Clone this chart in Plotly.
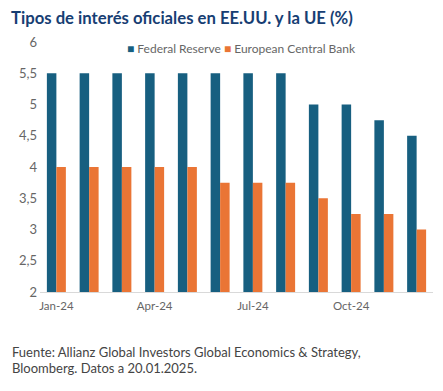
import plotly.graph_objects as go

months = ["Jan-24", "Feb-24", "Mar-24", "Apr-24", "May-24", "Jun-24",
          "Jul-24", "Aug-24", "Sep-24", "Oct-24", "Nov-24", "Dec-24"]
fed = [5.5, 5.5, 5.5, 5.5, 5.5, 5.5, 5.5, 5.5, 5.0, 5.0, 4.75, 4.5]
ecb = [4.0, 4.0, 4.0, 4.0, 4.0, 3.75, 3.75, 3.75, 3.5, 3.25, 3.25, 3.0]
tick_months = ["Jan-24", "Apr-24", "Jul-24", "Oct-24"]
y_ticks = [2, 2.5, 3, 3.5, 4, 4.5, 5, 5.5, 6]
FED_COLOR = "#175f80"
ECB_COLOR = "#ea7535"

# The page body has an 8px default margin, so layout coordinates are offset.
OFF = 8
W, H = 443 - OFF, 391 - OFF
L, T, R, B = 40 - OFF, 42 - OFF, 10, 391 - 292
PW, PH = W - L - R, H - T - B

def px_x(x):
    return (x - OFF - L) / PW

def px_y(y):
    return 1 - (y - OFF - T) / PH

FONT = "Lato"
fig = go.Figure()
fig.add_bar(x=months, y=fed, name="Federal Reserve", marker_color=FED_COLOR,
            marker_line_width=0, showlegend=False)
fig.add_bar(x=months, y=ecb, name="European Central Bank", marker_color=ECB_COLOR,
            marker_line_width=0, showlegend=False)

fig.update_layout(
    width=W, height=H,
    margin=dict(l=L, r=R, t=T, b=B),
    paper_bgcolor="white", plot_bgcolor="white",
    separators=",.",
    barmode="group", bargap=0.42, bargroupgap=0,
    font=dict(family=FONT, color="#555555", size=12),
)
fig.update_xaxes(type="category", tickvals=tick_months, ticktext=tick_months,
                 showgrid=False, showline=True, linecolor="#d9d9d9", linewidth=1,
                 ticks="", tickfont=dict(size=11.5, color="#666666"), ticklabelstandoff=3)
fig.update_yaxes(range=[2, 6], tickvals=y_ticks, showgrid=False, zeroline=False,
                 showline=False, ticks="", tickfont=dict(size=13, color="#666666"),
                 ticklabelstandoff=2)

# title
fig.add_annotation(
    text="<b>Tipos de interés oficiales en EE.UU. y la UE (%)</b>",
    xref="paper", yref="paper", x=px_x(10), y=px_y(18),
    xanchor="left", yanchor="middle", showarrow=False, borderpad=0,
    font=dict(family=FONT, size=16.7, color="#173e73"))

# legend row
fig.add_annotation(
    text=(f'<span style="color:{FED_COLOR}">■</span> Federal Reserve '
          f'<span style="color:{ECB_COLOR}">■</span> European Central Bank'),
    xref="paper", yref="paper", x=px_x(125), y=px_y(48),
    xanchor="left", yanchor="middle", showarrow=False,
    font=dict(family=FONT, size=12, color="#666666"))

fig.add_annotation(
    text="Fuente: Allianz Global Investors Global Economics & Strategy,",
    xref="paper", yref="paper", x=px_x(10), y=px_y(352),
    xanchor="left", yanchor="middle", showarrow=False,
    font=dict(family=FONT, size=13, color="#444444"))
fig.add_annotation(
    text="Bloomberg. Datos a 20.01.2025.",
    xref="paper", yref="paper", x=px_x(10), y=px_y(368),
    xanchor="left", yanchor="middle", showarrow=False,
    font=dict(family=FONT, size=13, color="#444444"))

fig.write_html("out.html")
